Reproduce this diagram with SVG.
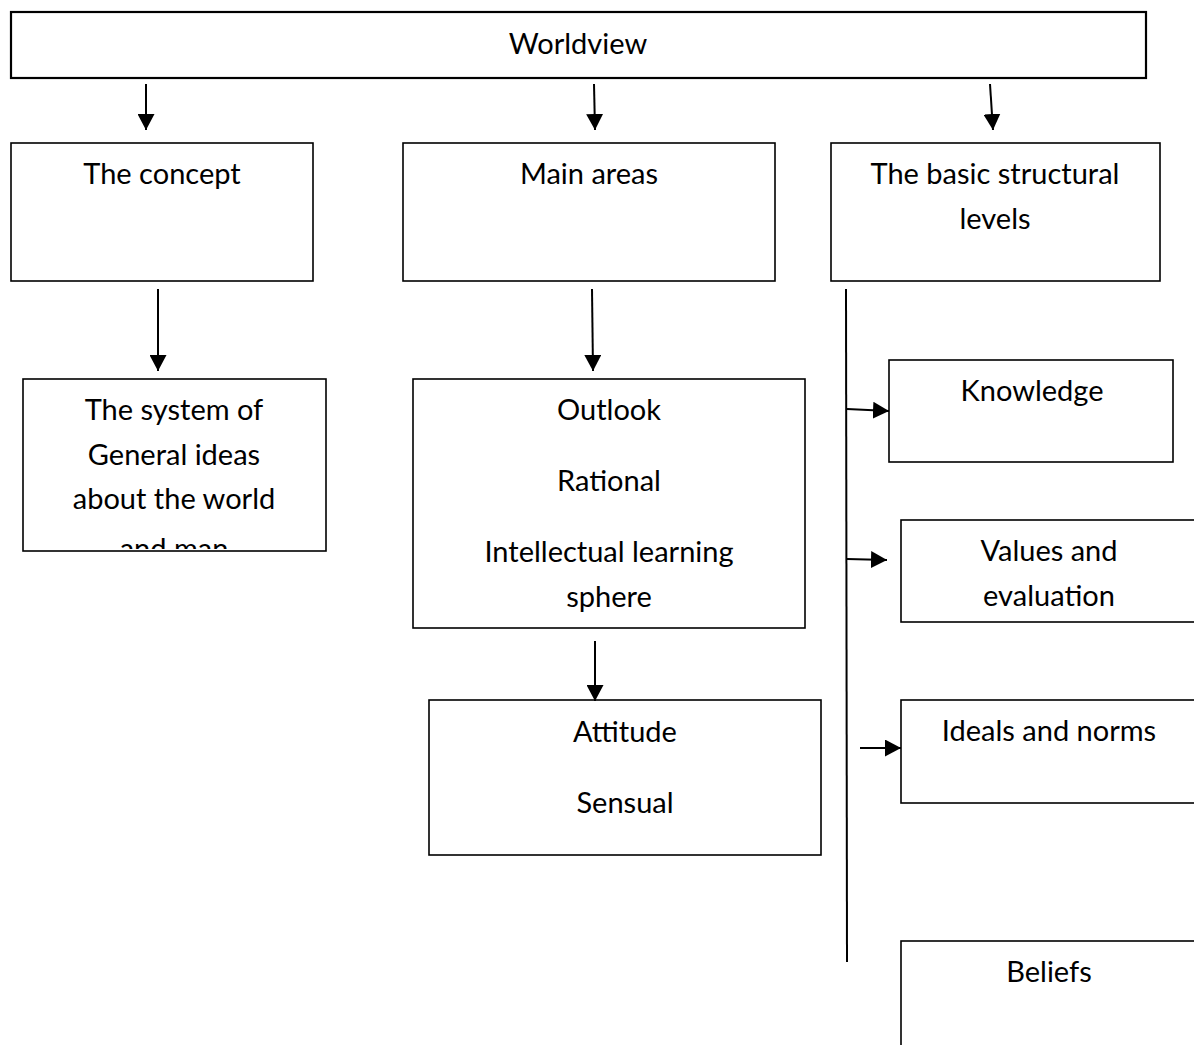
<svg xmlns="http://www.w3.org/2000/svg" width="1194" height="1045" viewBox="0 0 1194 1045">
<style>
.box{fill:#fff;stroke:#000;stroke-width:1.6}
.t{font-family:Lato,"Liberation Sans",sans-serif;font-size:29px;fill:#000;text-anchor:middle}
.c{stroke:#000;stroke-width:2;fill:none}
</style>
<defs>
<marker id="ah" markerUnits="userSpaceOnUse" markerWidth="17" markerHeight="17" refX="16" refY="8.5" orient="auto">
<path d="M0,0 L16,8.5 L0,17 Z" fill="#000"/>
</marker>
<clipPath id="clipSys"><rect x="23" y="379" width="303" height="170"/></clipPath>
</defs>
<rect width="1194" height="1045" fill="#fff"/>
<g id="worldview"><rect class="box" x="11" y="12" width="1135" height="66" style="stroke-width:2.2"/><text class="t" x="578" y="54">Worldview</text></g>
<g id="concept"><rect class="box" x="11" y="143" width="302" height="138"/><text class="t" x="162" y="184">The concept</text></g>
<g id="main-areas"><rect class="box" x="403" y="143" width="372" height="138"/><text class="t" x="589" y="184">Main areas</text></g>
<g id="structural"><rect class="box" x="831" y="143" width="329" height="138"/><text class="t" x="995" y="184">The basic structural</text><text class="t" x="995" y="229">levels</text></g>
<g id="system"><rect class="box" x="23" y="379" width="303" height="172"/><g clip-path="url(#clipSys)"><text class="t" x="174" y="420">The system of</text><text class="t" x="174" y="465">General ideas</text><text class="t" x="174" y="509">about the world</text><text class="t" x="174" y="559">and man</text></g></g>
<g id="outlook"><rect class="box" x="413" y="379" width="392" height="249"/><text class="t" x="609" y="420">Outlook</text><text class="t" x="609" y="491">Rational</text><text class="t" x="609" y="562">Intellectual learning</text><text class="t" x="609" y="607">sphere</text></g>
<g id="attitude"><rect class="box" x="429" y="700" width="392" height="155"/><text class="t" x="625" y="742">Attitude</text><text class="t" x="625" y="813">Sensual</text></g>
<g id="knowledge"><rect class="box" x="889" y="360" width="284" height="102"/><text class="t" x="1032" y="401">Knowledge</text></g>
<g id="values"><rect class="box" x="901" y="520" width="300" height="102"/><text class="t" x="1049" y="561">Values and</text><text class="t" x="1049" y="606">evaluation</text></g>
<g id="ideals"><rect class="box" x="901" y="700" width="300" height="103"/><text class="t" x="1049" y="741">Ideals and norms</text></g>
<g id="beliefs"><rect class="box" x="901" y="941" width="300" height="110"/><text class="t" x="1049" y="982">Beliefs</text></g>
<g id="connectors">
<line class="c" x1="146" y1="84" x2="146" y2="130" marker-end="url(#ah)"/>
<line class="c" x1="594" y1="84" x2="595" y2="130" marker-end="url(#ah)"/>
<line class="c" x1="990" y1="84" x2="993" y2="130" marker-end="url(#ah)"/>
<line class="c" x1="158" y1="289" x2="158" y2="371" marker-end="url(#ah)"/>
<line class="c" x1="592" y1="289" x2="593" y2="371" marker-end="url(#ah)"/>
<line class="c" x1="595" y1="641" x2="595" y2="701" marker-end="url(#ah)"/>
<line class="c" x1="846" y1="289" x2="847" y2="962"/>
<line class="c" x1="847" y1="409" x2="889" y2="411" marker-end="url(#ah)"/>
<line class="c" x1="847" y1="559" x2="887" y2="560" marker-end="url(#ah)"/>
<line class="c" x1="860" y1="748" x2="901" y2="748" marker-end="url(#ah)"/>
</g>
</svg>
